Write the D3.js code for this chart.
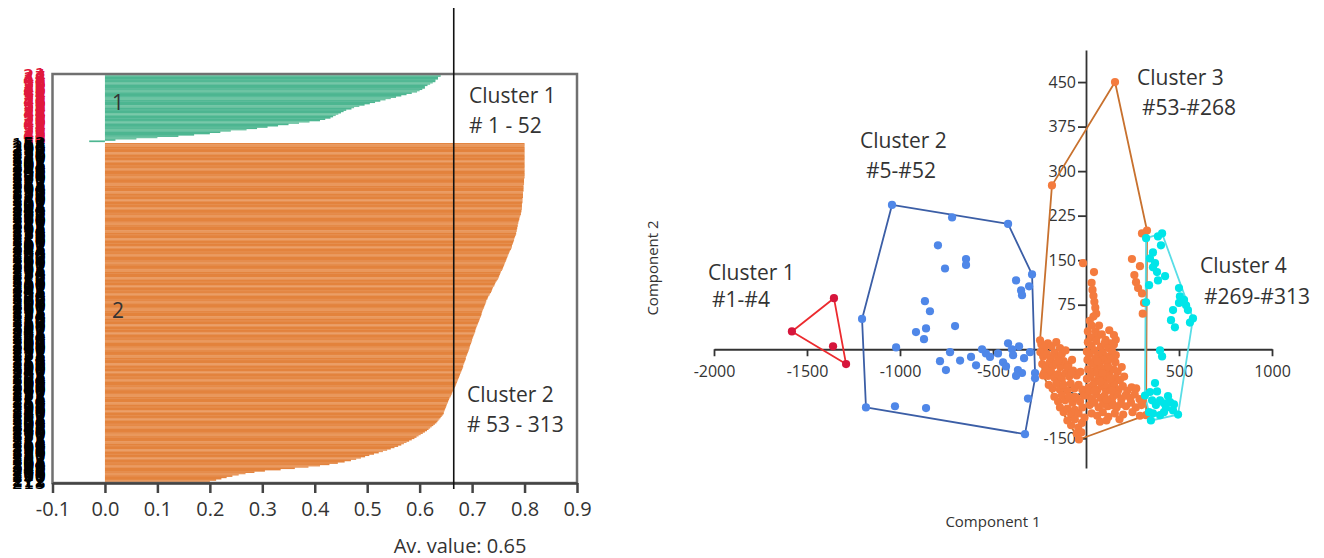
<!DOCTYPE html>
<html>
<head>
<meta charset="utf-8">
<script src="https://cdn.jsdelivr.net/npm/d3@7"></script>
<style>
  html, body { margin: 0; padding: 0; background: #fff; }
  svg { display: block; font-family: "Open Sans", sans-serif; }
</style>
</head>
<body>
<div id="chart"></div>
<script>
// ---------- silhouette plot data (sorted per cluster) ----------
const cluster1Sil = [
  0.64, 0.64, 0.635, 0.635, 0.63, 0.63, 0.625, 0.62, 0.615, 0.61,
  0.61, 0.605, 0.60, 0.595, 0.585, 0.575, 0.565, 0.555, 0.545, 0.535,
  0.525, 0.515, 0.505, 0.495, 0.485, 0.475, 0.47, 0.46, 0.455, 0.45,
  0.445, 0.44, 0.435, 0.43, 0.42, 0.41, 0.39, 0.37, 0.35, 0.33,
  0.31, 0.29, 0.27, 0.24, 0.22, 0.20, 0.17, 0.14, 0.10, 0.06,
  0.02, -0.03
];
const cluster2Sil = [
  0.80, 0.80, 0.80, 0.80, 0.80, 0.80, 0.80, 0.80, 0.80, 0.80,
  0.80, 0.80, 0.80, 0.80, 0.80, 0.80, 0.80, 0.80, 0.80, 0.80,
  0.80, 0.80, 0.80, 0.80, 0.80, 0.80, 0.80, 0.799, 0.799, 0.799,
  0.799, 0.799, 0.798, 0.798, 0.798, 0.798, 0.798, 0.797, 0.797, 0.797,
  0.797, 0.797, 0.796, 0.796, 0.796, 0.796, 0.795, 0.795, 0.795, 0.795,
  0.795, 0.794, 0.794, 0.793, 0.793, 0.792, 0.791, 0.790, 0.790, 0.789,
  0.788, 0.788, 0.787, 0.787, 0.786, 0.786, 0.785, 0.785, 0.784, 0.784,
  0.783, 0.782, 0.781, 0.780, 0.780, 0.779, 0.778, 0.777, 0.776, 0.776,
  0.775, 0.774, 0.772, 0.771, 0.770, 0.769, 0.768, 0.767, 0.766, 0.765,
  0.764, 0.763, 0.762, 0.761, 0.760, 0.759, 0.758, 0.757, 0.755, 0.754,
  0.753, 0.752, 0.751, 0.750, 0.749, 0.747, 0.745, 0.744, 0.743, 0.742,
  0.740, 0.739, 0.738, 0.737, 0.736, 0.734, 0.733, 0.731, 0.730, 0.729,
  0.727, 0.727, 0.726, 0.725, 0.724, 0.723, 0.722, 0.721, 0.720, 0.719,
  0.718, 0.718, 0.717, 0.716, 0.715, 0.714, 0.713, 0.712, 0.711, 0.710,
  0.709, 0.708, 0.707, 0.706, 0.706, 0.705, 0.704, 0.703, 0.702, 0.701,
  0.700, 0.700, 0.699, 0.698, 0.697, 0.696, 0.695, 0.695, 0.694, 0.693,
  0.692, 0.691, 0.690, 0.689, 0.688, 0.688, 0.687, 0.686, 0.685, 0.684,
  0.683, 0.683, 0.682, 0.681, 0.680, 0.679, 0.678, 0.677, 0.676, 0.675,
  0.674, 0.673, 0.672, 0.671, 0.670, 0.669, 0.668, 0.667, 0.665, 0.664,
  0.663, 0.662, 0.661, 0.660, 0.659, 0.657, 0.656, 0.655, 0.654, 0.653,
  0.652, 0.651, 0.650, 0.649, 0.648, 0.647, 0.646, 0.646, 0.644, 0.642,
  0.640, 0.638, 0.636, 0.634, 0.632, 0.629, 0.626, 0.623, 0.620, 0.617,
  0.614, 0.610, 0.606, 0.602, 0.598, 0.594, 0.590, 0.585, 0.580, 0.575,
  0.570, 0.565, 0.559, 0.552, 0.545, 0.538, 0.530, 0.522, 0.513, 0.504,
  0.496, 0.488, 0.479, 0.469, 0.457, 0.444, 0.428, 0.410, 0.388, 0.362,
  0.335, 0.305, 0.285, 0.268, 0.255, 0.243, 0.232, 0.222, 0.212, 0.200, 0.190
];
const silTicks = [-0.1, 0.0, 0.1, 0.2, 0.3, 0.4, 0.5, 0.6, 0.7, 0.8, 0.9];
const avLine = 0.665;
const avLabel = "Av. value: 0.65";

// ---------- PCA scatter data: [component 1, component 2] ----------
const pcaCluster1 = [[-1581, 30], [-1355, 86], [-1360, 5], [-1290, -25]];
const pcaCluster2 = [
  [-1043, 243], [-720, 222], [-419, 211], [-796, 175], [-645, 152], [-645, 142],
  [-758, 136], [-290, 126], [-376, 116], [-306, 106], [-349, 99], [-344, 91],
  [-866, 81], [-839, 64], [-1204, 51], [-704, 39], [-860, 35], [-914, 29],
  [-871, 17], [-1021, 3], [-419, 10], [-398, 0], [-785, -20], [-753, -35],
  [-677, -19], [-618, -13], [-591, -27], [-538, -7], [-516, -13], [-473, -7],
  [-392, -10], [-333, -15], [-366, -35], [-344, -40], [-376, -45], [-274, -40],
  [-274, -49], [-312, -83], [-1183, -98], [-1027, -96], [-860, -99], [-328, -143],
  [-559, 0], [-446, -22], [-301, -5], [-360, 5], [-731, -5], [-430, -29]
];
const pcaCluster3 = [
  [156, 450], [-183, 276], [-247, 15], [-231, -44], [-38, -152], [323, -111], [328, 200], [301, 195],
  [-16, 145], [43, 130], [30, 112], [35, 100], [40, 90], [45, 80], [50, 70], [55, 60],
  [40, 55], [20, 48], [30, 40], [52, 30], [60, 22], [25, 20],
  [125, 32], [150, 24], [160, 16], [105, 16], [130, 10], [140, 5],
  [247, 152], [269, 113], [280, 103], [301, 94], [312, 78], [290, 140], [260, 125], [305, 60],
  [-240, 8], [-225, 2], [-205, 10], [-185, 5], [-160, 12], [-140, 2],
  [-245, -5], [-230, -12], [-210, -8], [-190, -15], [-170, -6], [-150, -14], [-130, -8], [-110, -2],
  [-235, -25], [-215, -30], [-195, -22], [-178, -28], [-160, -24], [-138, -30], [-120, -20], [-95, -26], [-75, -18],
  [-225, -40], [-205, -45], [-188, -38], [-170, -48], [-150, -42], [-130, -50], [-110, -40], [-90, -46], [-70, -36], [-50, -44], [-30, -38],
  [-200, -60], [-180, -66], [-160, -58], [-140, -68], [-122, -62], [-100, -70], [-82, -58], [-62, -66], [-40, -60], [-20, -68],
  [-170, -80], [-150, -88], [-130, -78], [-112, -86], [-92, -80], [-72, -90], [-52, -82], [-32, -88], [-12, -78],
  [-140, -98], [-120, -106], [-100, -100], [-80, -110], [-60, -102], [-40, -108], [-20, -98],
  [-100, -120], [-80, -128], [-60, -118], [-42, -132], [-22, -124], [-8, -115],
  [-50, -142], [-25, -140],
  [10, 12], [30, 6], [55, 14], [80, 4], [100, 10], [120, 2], [150, 8],
  [5, -4], [20, -8], [45, -2], [65, -10], [90, -6], [110, -12], [140, -4], [160, -10],
  [8, -18], [28, -22], [50, -16], [72, -24], [95, -18], [115, -25], [135, -16], [158, -22],
  [12, -34], [35, -38], [58, -30], [80, -36], [102, -32], [125, -40], [148, -34], [170, -38], [192, -30],
  [5, -50], [25, -46], [48, -54], [70, -48], [92, -52], [115, -46], [138, -54], [160, -48], [182, -52], [205, -46],
  [15, -64], [38, -60], [62, -68], [85, -62], [108, -70], [130, -64], [152, -60], [175, -68], [198, -62], [222, -70], [245, -64], [270, -66],
  [10, -78], [32, -84], [55, -76], [78, -82], [100, -78], [122, -86], [145, -80], [168, -76], [190, -84], [212, -78], [238, -82], [262, -76], [288, -84], [305, -86],
  [20, -94], [45, -90], [68, -98], [92, -92], [118, -96], [140, -90], [165, -98], [188, -92], [215, -96], [242, -90], [268, -98], [298, -94],
  [30, -108], [60, -112], [90, -106], [120, -114], [155, -108], [200, -110], [250, -106], [290, -112],
  [75, -122], [110, -120], [180, -118],
  [10, 30], [70, 40], [85, 25], [60, -40], [100, -60], [140, -70],
  [40, -25], [75, -55], [110, -85], [150, -95], [-100, -30], [-60, -80], [-150, -20], [20, -70], [130, -50],
  [60, -20], [90, -40], [45, -70], [120, -30], [-120, -60], [-80, -40]
];
const pcaCluster4 = [
  [323, 187], [409, 195], [387, 190], [360, 163], [371, 145], [360, 138], [382, 130], [339, 108],
  [323, 79], [500, 103], [527, 83], [548, 66], [468, 66], [478, 37], [500, 78], [575, 52],
  [559, 45], [457, 49], [398, -2], [409, -12], [371, -57], [398, -86], [419, -91], [452, -89],
  [468, -103], [360, -108], [339, -106], [419, -106], [398, -111], [349, -120], [495, -110], [441, -79],
  [376, -94], [317, -78], [344, -72], [473, -93], [403, 175], [344, 153], [387, 116], [425, 123],
  [505, 89], [538, 74], [382, -71], [430, -99], [355, -86]
];
const pcaXTicks = [-2000, -1500, -1000, -500, 500, 1000];
const pcaYTicks = [-150, -75, 75, 150, 225, 300, 375, 450];

const svg = d3.select("#chart").append("svg")
  .attr("width", 1324)
  .attr("height", 558);

// ==================================================
// LEFT: silhouette plot
// ==================================================
const xL = d3.scaleLinear().domain([-0.1, 0.9]).range([52.5, 577]);
const yL = d3.scaleBand().domain(d3.range(314)).range([74, 483]);

// observation numbers in silhouette order are mixed, so spread them
const rows = [
  ...cluster1Sil.map((v, i) => ({ v, row: i, cl: 1, id: (i * 23) % 52 + 1 })),
  ...cluster2Sil.map((v, i) => ({ v, row: i + 53, cl: 2, id: (i * 101) % 261 + 53 }))
];

const barCol = {
  1: ["#4db691", "#6ec4a3"],
  2: ["#e3833d", "#e9985d"]
};

svg.append("g")
  .selectAll("rect")
  .data(rows)
  .join("rect")
  .attr("x", d => xL(Math.min(0, d.v)))
  .attr("y", d => yL(d.row))
  .attr("width", d => Math.abs(xL(d.v) - xL(0)))
  .attr("height", yL.bandwidth() + 0.4)
  .attr("fill", d => barCol[d.cl][(d.row % 6 < 2) ? 1 : 0]);

// row labels (overlapping observation numbers)
svg.append("g")
  .selectAll("text")
  .data(rows)
  .join("text")
  .attr("x", 46)
  .attr("y", d => yL(d.row) + yL.bandwidth() / 2)
  .attr("dy", "0.35em")
  .attr("text-anchor", "end")
  .attr("font-family", "DejaVu Sans")
  .attr("font-size", 18)
  .attr("fill", d => d.cl === 1 ? "#e0183c" : "#000")
  .text(d => d.id);

// frame
svg.append("rect")
  .attr("x", xL(-0.1))
  .attr("y", 74)
  .attr("width", xL(0.9) - xL(-0.1))
  .attr("height", 409)
  .attr("fill", "none")
  .attr("stroke", "#707070")
  .attr("stroke-width", 2.5);

// x axis
const axL = svg.append("g")
  .attr("transform", "translate(0,483)")
  .call(d3.axisBottom(xL).tickValues(silTicks).tickSize(10).tickSizeOuter(0).tickPadding(9)
    .tickFormat(d => d.toFixed(1)));
axL.select(".domain").attr("stroke", "#444").attr("stroke-width", 2.5);
axL.selectAll(".tick line").attr("stroke", "#444").attr("stroke-width", 2.5);
axL.selectAll(".tick text").attr("font-size", 20).attr("fill", "#333")
  .attr("font-family", "Open Sans");

// average line
svg.append("line")
  .attr("x1", xL(avLine)).attr("x2", xL(avLine))
  .attr("y1", 8).attr("y2", 489)
  .attr("stroke", "#111").attr("stroke-width", 1.6);

svg.append("text")
  .attr("x", 460).attr("y", 553)
  .attr("text-anchor", "middle")
  .attr("font-size", 20).attr("fill", "#333")
  .text(avLabel);

// bar cluster numbers
svg.append("text").attr("x", 112).attr("y", 110)
  .attr("font-size", 21).attr("fill", "#333").text("1");
svg.append("text").attr("x", 112).attr("y", 318)
  .attr("font-size", 21).attr("fill", "#333").text("2");

const leftNotes = [
  { t: "Cluster 1", x: 469, y: 103 },
  { t: "# 1 - 52", x: 469, y: 133 },
  { t: "Cluster 2", x: 467, y: 402 },
  { t: "# 53 - 313", x: 467, y: 432 }
];
svg.append("g").selectAll("text").data(leftNotes).join("text")
  .attr("x", d => d.x).attr("y", d => d.y)
  .attr("font-size", 21).attr("fill", "#333")
  .text(d => d.t);

// ==================================================
// RIGHT: PCA scatter with convex hulls
// ==================================================
const xS = d3.scaleLinear().domain([-2000, 1000]).range([714, 1272]);
const yS = d3.scaleLinear().domain([-200, 504]).range([468, 50]);

const axX = svg.append("g")
  .attr("transform", `translate(0,${yS(0)})`)
  .call(d3.axisBottom(xS).tickValues(pcaXTicks).tickSize(7).tickSizeOuter(0).tickPadding(9)
    .tickFormat(d => String(d)));
const axY = svg.append("g")
  .attr("transform", `translate(${xS(0)},0)`)
  .call(d3.axisLeft(yS).tickValues(pcaYTicks).tickSize(8).tickSizeOuter(0).tickPadding(2)
    .tickFormat(d => String(d)));
[axX, axY].forEach(a => {
  a.select(".domain").attr("stroke", "#333").attr("stroke-width", 1.8);
  a.selectAll(".tick line").attr("stroke", "#333").attr("stroke-width", 1.8);
  a.selectAll(".tick text").attr("font-size", 16).attr("fill", "#333")
    .attr("font-family", "Open Sans");
});

const clusters = [
  { pts: pcaCluster1, hull: "#ec2a2e", dot: "#d6163c" },
  { pts: pcaCluster2, hull: "#3b5ea6", dot: "#4f87e8" },
  { pts: pcaCluster3, hull: "#c8712e", dot: "#f47b3e" },
  { pts: pcaCluster4, hull: "#58dde6", dot: "#00e5e8" }
];

svg.append("g").selectAll("path")
  .data(clusters)
  .join("path")
  .attr("d", c => {
    const h = d3.polygonHull(c.pts.map(p => [xS(p[0]), yS(p[1])]));
    return "M" + h.join("L") + "Z";
  })
  .attr("fill", "none")
  .attr("stroke", c => c.hull)
  .attr("stroke-width", 1.8)
  .attr("stroke-linejoin", "round");

clusters.forEach(c => {
  svg.append("g").selectAll("circle")
    .data(c.pts)
    .join("circle")
    .attr("cx", d => xS(d[0]))
    .attr("cy", d => yS(d[1]))
    .attr("r", 4.1)
    .attr("fill", c.dot);
});

const rightNotes = [
  { t: "Cluster 1", x: 708, y: 280 },
  { t: "#1-#4", x: 712, y: 307 },
  { t: "Cluster 2", x: 860, y: 148 },
  { t: "#5-#52", x: 866, y: 178 },
  { t: "Cluster 3", x: 1137, y: 85 },
  { t: "#53-#268", x: 1142, y: 115 },
  { t: "Cluster 4", x: 1200, y: 273 },
  { t: "#269-#313", x: 1204, y: 304 }
];
svg.append("g").selectAll("text").data(rightNotes).join("text")
  .attr("x", d => d.x).attr("y", d => d.y)
  .attr("font-size", 21).attr("fill", "#333")
  .text(d => d.t);

svg.append("text")
  .attr("x", xS(-500)).attr("y", 527)
  .attr("text-anchor", "middle")
  .attr("font-size", 15).attr("fill", "#333")
  .text("Component 1");
svg.append("text")
  .attr("transform", "translate(658,268) rotate(-90)")
  .attr("text-anchor", "middle")
  .attr("font-size", 15).attr("fill", "#333")
  .text("Component 2");
</script>
</body>
</html>
